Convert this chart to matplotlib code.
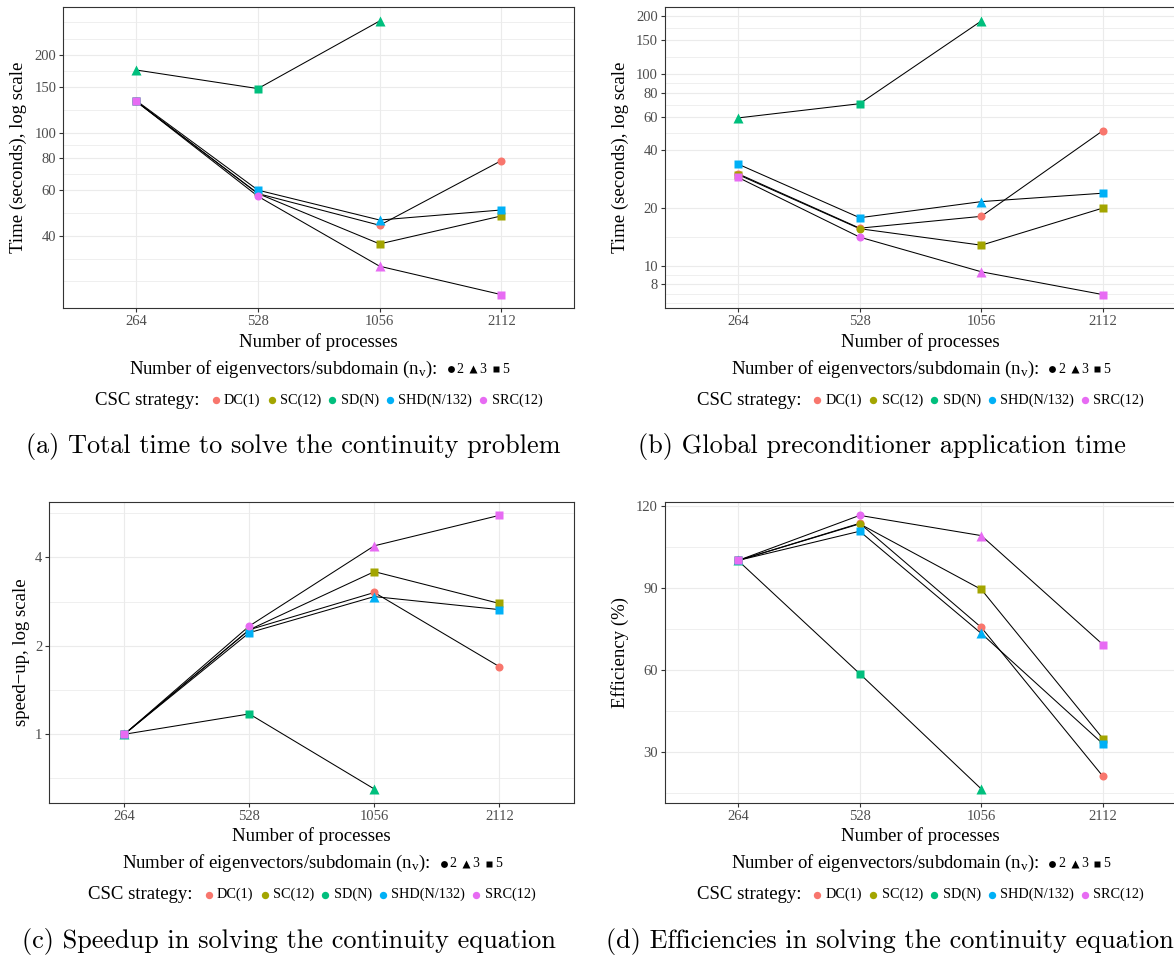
import numpy as np
import matplotlib

matplotlib.use("Agg")
import matplotlib.pyplot as plt
from matplotlib.lines import Line2D
from matplotlib.offsetbox import AnchoredOffsetbox, DrawingArea, HPacker, TextArea
from matplotlib.ticker import FixedLocator, FixedFormatter, NullFormatter

plt.rcParams["font.family"] = ["Liberation Serif", "DejaVu Serif"]
plt.rcParams["mathtext.fontset"] = "custom"
plt.rcParams["mathtext.rm"] = "Liberation Serif"
plt.rcParams["mathtext.it"] = "Liberation Serif:italic"

DPI = 100
W, H = 1174, 956
nan = np.nan

procs = ["264", "528", "1056", "2112"]
strategies = ["DC(1)", "SC(12)", "SD(N)", "SHD(N/132)", "SRC(12)"]
strategy_colors = ["#F8766D", "#A3A500", "#00BF7D", "#00B0F6", "#E76BF3"]
nv_levels = [2, 3, 5]
# number of eigenvectors used at each point, one row per strategy
best_nv = [
    [2, 2, 2, 2],
    [5, 2, 5, 5],
    [3, 5, 3, 3],
    [5, 5, 3, 5],
    [5, 2, 3, 5],
]

# (a) total time, seconds
total_time = [
    [132.0, 58.2, 43.9, 78.0],
    [132.0, 58.2, 37.2, 47.7],
    [174.6, 148.0, 270.0, nan],
    [133.0, 60.0, 46.0, 50.3],
    [132.0, 56.8, 30.5, 23.7],
]
# (b) global preconditioner application time, seconds
precond_time = [
    [30.2, 15.7, 18.1, 50.7],
    [29.9, 15.6, 12.8, 20.0],
    [59.0, 70.0, 189.0, nan],
    [33.9, 17.8, 21.6, 23.9],
    [28.9, 14.1, 9.3, 7.07],
]
# (c) speed-up
speedup = [
    [1.0, 2.27, 3.04, 1.70],
    [1.0, 2.27, 3.58, 2.79],
    [1.0, 1.173, 0.651, nan],
    [1.0, 2.218, 2.944, 2.658],
    [1.0, 2.337, 4.384, 5.565],
]
# (d) efficiency, %
efficiency = [
    [100.0, 113.6, 75.5, 21.0],
    [100.0, 113.4, 89.4, 34.8],
    [100.0, 58.6, 16.4, nan],
    [100.0, 110.7, 73.3, 32.9],
    [100.0, 116.5, 109.1, 69.2],
]

yticks_a = [40, 60, 80, 100, 150, 200]
yticks_b = [8, 10, 20, 40, 60, 80, 100, 150, 200]
yticks_c = [1, 2, 4]
yticks_d = [30, 60, 90, 120]

captions = [
    "(a) Total time to solve the continuity problem",
    "(b) Global preconditioner application time",
    "(c) Speedup in solving the continuity equation",
    "(d) Efficiencies in solving the continuity equation",
]

MARKERS = {2: "o", 3: "^", 5: "s"}
MSIZE = {2: 5.8, 3: 6.6, 5: 5.6}
GRID = "#EBEBEB"
DARK = "#333333"

fig = plt.figure(figsize=(W / DPI, H / DPI), dpi=DPI)
fig.patch.set_facecolor("white")


def pt(px):
    return px * 72.0 / DPI


def gg_minor(breaks, log):
    b = np.log10(breaks) if log else np.asarray(breaks, float)
    b = np.concatenate([[b[0] - (b[1] - b[0])], b, [b[-1] + (b[-1] - b[-2])]])
    m = np.concatenate([b[[0, -1]], (b[:-1] + b[1:]) / 2])
    return 10 ** m if log else m


def draw_panel(box, values, log, yticks, ylabel, ylab_x):
    left, top, right, bottom = box
    ax = fig.add_axes([left / W, 1 - bottom / H, (right - left) / W, (bottom - top) / H])
    x = np.arange(len(procs))
    for vals in values:
        ax.plot(x, vals, color="black", lw=0.75, zorder=3)
    for vals, color, nvs in zip(values, strategy_colors, best_nv):
        for xi, v, nv in zip(x, vals, nvs):
            if np.isnan(v):
                continue
            ax.plot(xi, v, ls="none", marker=MARKERS[nv], ms=MSIZE[nv],
                    color=color, mec="none", zorder=4)
    if log:
        ax.set_yscale("log")
    ax.margins(y=0.05)
    ax.set_xlim(-0.6, len(procs) - 0.4)
    ax.set_xticks(x, procs)
    ax.yaxis.set_major_locator(FixedLocator(yticks))
    ax.yaxis.set_major_formatter(FixedFormatter([str(t) for t in yticks]))
    ax.yaxis.set_minor_locator(FixedLocator(gg_minor(yticks, log)))
    ax.yaxis.set_minor_formatter(NullFormatter())
    ax.grid(which="major", color=GRID, lw=0.8, zorder=0)
    ax.grid(which="minor", axis="y", color=GRID, lw=0.55, zorder=0)
    ax.set_axisbelow(True)
    ax.tick_params(which="major", length=3, width=0.8, color=DARK, pad=2,
                   labelsize=10.5, labelcolor="#4D4D4D")
    ax.tick_params(which="minor", length=0)
    for s in ax.spines.values():
        s.set_color(DARK)
        s.set_linewidth(0.8)
    ax.set_xlabel("Number of processes", fontsize=13.5, va="center")
    ax.xaxis.set_label_coords(0.5, -33.4 / (bottom - top))
    ax.set_ylabel(ylabel, fontsize=13.5, va="center")
    ax.yaxis.set_label_coords(-(left - ylab_x) / (right - left), 0.5)
    return ax


def spacer(px):
    return DrawingArea(pt(px), 1)


def key(marker, color, ms, size_px):
    s = pt(size_px)
    da = DrawingArea(s, s)
    da.add_artist(Line2D([s / 2], [s / 2], ls="none", marker=marker, ms=ms,
                         color=color, mec="none"))
    return da


def add_row(xc, yc, parts):
    packed = HPacker(children=parts, align="center", pad=0, sep=0)
    anch = AnchoredOffsetbox(loc="center", child=packed, pad=0, borderpad=0,
                             frameon=False, bbox_to_anchor=(xc / W, 1 - yc / H),
                             bbox_transform=fig.transFigure)
    fig.add_artist(anch)


def add_legends(xc, dy):
    parts = [TextArea("Number of eigenvectors/subdomain (n$_\\mathrm{v}$):",
                      textprops=dict(fontsize=13.5)), spacer(9)]
    for nv in nv_levels:
        parts += [key(MARKERS[nv], "black", MSIZE[nv] * 0.85, 9), spacer(1.5),
                  TextArea(str(nv), textprops=dict(fontsize=10)), spacer(5)]
    add_row(xc, 369.3 + dy, parts[:-1])

    parts = [TextArea("CSC strategy:", textprops=dict(fontsize=13.5)), spacer(10.5)]
    for name, color in zip(strategies, strategy_colors):
        parts += [key("o", color, 5.3, 11), spacer(3),
                  TextArea(name, textprops=dict(fontsize=10.3)), spacer(5.5)]
    add_row(xc, 400.3 + dy, parts[:-1])


ylab_time = "Time (seconds), log scale"
boxes = [
    (63.3, 7.3, 574.3, 308.3),
    (665.0, 7.3, 1176.0, 308.3),
    (49.3, 501.7, 574.3, 802.7),
    (665.0, 501.7, 1176.0, 802.7),
]

draw_panel(boxes[0], total_time, True, yticks_a, ylab_time, 18.2)
draw_panel(boxes[1], precond_time, True, yticks_b, ylab_time, 620.0)
draw_panel(boxes[2], speedup, True, yticks_c, "speed\u2212up, log scale", 21.3)
draw_panel(boxes[3], efficiency, False, yticks_d, "Efficiency (%)", 620.0)

shift = 494.4
for i, (l, t, r, b) in enumerate(boxes):
    add_legends((l + r) / 2, shift if i >= 2 else 0)

# caption anchors: x position and alignment per subfigure
caption_x = [293.0, 882.0, 289.0, 606.5]
caption_ha = ["center", "center", "center", "left"]
caption_y = [446.7, 446.7, 446.7 + shift, 446.7 + shift]
for text, cx, cy, ha in zip(captions, caption_x, caption_y, caption_ha):
    fig.text(cx / W, 1 - cy / H, text, family="cmr10", fontsize=18.9,
             ha=ha, va="center")

fig.savefig("out.png", dpi=DPI, facecolor="white")
